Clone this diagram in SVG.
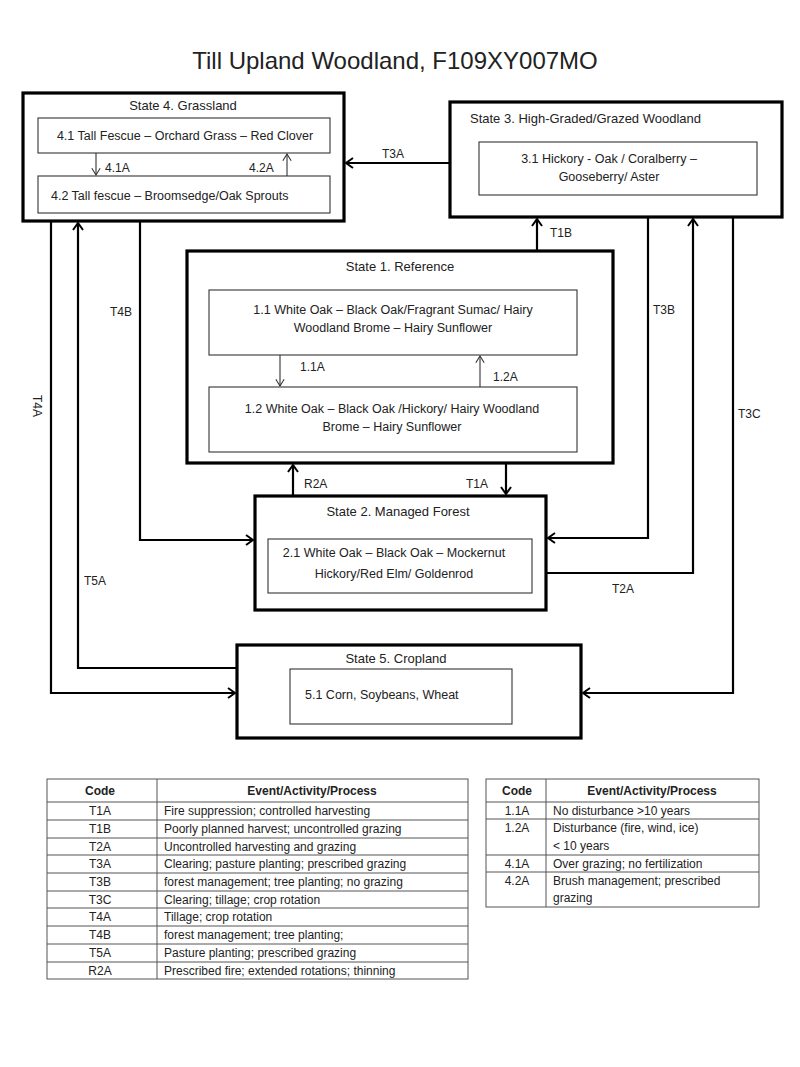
<svg xmlns="http://www.w3.org/2000/svg" width="800" height="1067" viewBox="0 0 800 1067">
<defs>
<style>
text{font-family:"Liberation Sans",Arial,sans-serif;fill:#222;}
.title{font-size:24px;}
.st{font-size:13px;}
.tx{font-size:12.5px;}
.lb{font-size:12px;}
.tb{font-size:12px;}
.th{font-size:12px;font-weight:bold;}
.outer{fill:#fff;stroke:#000;stroke-width:3.2;}
.inner{fill:#fff;stroke:#333;stroke-width:1.1;}
.con{fill:none;stroke:#000;stroke-width:2.2;}
.thin{fill:none;stroke:#333;stroke-width:1.1;}
.grid{fill:none;stroke:#555;stroke-width:1;}
</style>
<marker id="ah" viewBox="0 0 12 12" refX="11" refY="6" markerWidth="12" markerHeight="12" markerUnits="userSpaceOnUse" orient="auto">
<path d="M4,1 L11,6 L4,11" fill="none" stroke="#000" stroke-width="2"/>
</marker>
<marker id="ahs" viewBox="0 0 12 12" refX="11" refY="6" markerWidth="10" markerHeight="10" markerUnits="userSpaceOnUse" orient="auto">
<path d="M3,1 L11,6 L3,11" fill="none" stroke="#333" stroke-width="1.3"/>
</marker>
</defs>
<rect width="800" height="1067" fill="#fff"/>
<text class="title" x="395" y="69" text-anchor="middle">Till Upland Woodland, F109XY007MO</text>

<g id="state4">
<rect class="outer" x="23" y="93" width="321" height="128"/>
<text class="st" x="183" y="110" text-anchor="middle">State 4. Grassland</text>
<rect class="inner" x="38" y="118" width="292" height="35"/>
<text class="tx" x="185" y="140" text-anchor="middle">4.1 Tall Fescue – Orchard Grass – Red Clover</text>
<rect class="inner" x="38" y="176" width="292" height="37"/>
<text class="tx" x="51" y="200">4.2 Tall fescue – Broomsedge/Oak Sprouts</text>
</g>

<g id="state3">
<rect class="outer" x="450" y="102" width="332" height="115"/>
<text class="st" x="470" y="123">State 3. High-Graded/Grazed Woodland</text>
<rect class="inner" x="479" y="142" width="278" height="53"/>
<text class="tx" x="609" y="163" text-anchor="middle">3.1 Hickory - Oak / Coralberry  –</text>
<text class="tx" x="609" y="181" text-anchor="middle">Gooseberry/ Aster</text>
</g>

<g id="state1">
<rect class="outer" x="187" y="251" width="426" height="212"/>
<text class="st" x="400" y="271" text-anchor="middle">State 1. Reference</text>
<rect class="inner" x="209" y="290" width="368" height="65"/>
<text class="tx" x="393" y="314" text-anchor="middle">1.1 White Oak – Black Oak/Fragrant Sumac/ Hairy</text>
<text class="tx" x="393" y="332" text-anchor="middle">Woodland Brome – Hairy Sunflower</text>
<rect class="inner" x="209" y="387" width="368" height="65"/>
<text class="tx" x="392" y="413" text-anchor="middle">1.2 White Oak – Black Oak /Hickory/ Hairy Woodland</text>
<text class="tx" x="392" y="431" text-anchor="middle">Brome – Hairy Sunflower</text>
</g>

<g id="state2">
<rect class="outer" x="255" y="496" width="291" height="114"/>
<text class="st" x="398" y="516" text-anchor="middle">State 2. Managed Forest</text>
<rect class="inner" x="268" y="539" width="264" height="54"/>
<text class="tx" x="394" y="557" text-anchor="middle">2.1 White Oak – Black Oak – Mockernut</text>
<text class="tx" x="394" y="578" text-anchor="middle">Hickory/Red Elm/ Goldenrod</text>
</g>

<g id="state5">
<rect class="outer" x="237" y="645" width="344" height="93"/>
<text class="st" x="396" y="663" text-anchor="middle">State 5. Cropland</text>
<rect class="inner" x="290" y="669" width="222" height="55"/>
<text class="tx" x="305" y="699">5.1 Corn, Soybeans, Wheat</text>
</g>

<g id="connectors">
<path class="con" d="M450,163 H346" marker-end="url(#ah)"/>
<path class="con" d="M537,251 V219" marker-end="url(#ah)"/>
<path class="con" d="M51,221 V693 H235" marker-end="url(#ah)"/>
<path class="con" d="M237,668 H78 V223" marker-end="url(#ah)"/>
<path class="con" d="M140,221 V540 H253" marker-end="url(#ah)"/>
<path class="con" d="M648,217 V538 H548" marker-end="url(#ah)"/>
<path class="con" d="M546,573 H693 V219" marker-end="url(#ah)"/>
<path class="con" d="M733,217 V693 H583" marker-end="url(#ah)"/>
<path class="con" d="M293,496 V465" marker-end="url(#ah)"/>
<path class="con" d="M506,463 V494" marker-end="url(#ah)"/>
<path class="thin" d="M96,153 V175" marker-end="url(#ahs)"/>
<path class="thin" d="M287,176 V154" marker-end="url(#ahs)"/>
<path class="thin" d="M280,355 V386" marker-end="url(#ahs)"/>
<path class="thin" d="M480,387 V356" marker-end="url(#ahs)"/>
<text class="lb" x="382" y="158">T3A</text>
<text class="lb" x="550" y="237">T1B</text>
<text class="lb" x="0" y="0" transform="translate(33,406) rotate(90)" text-anchor="middle">T4A</text>
<text class="lb" x="84" y="585">T5A</text>
<text class="lb" x="110" y="316">T4B</text>
<text class="lb" x="653" y="314">T3B</text>
<text class="lb" x="612" y="593">T2A</text>
<text class="lb" x="738" y="418">T3C</text>
<text class="lb" x="304" y="488">R2A</text>
<text class="lb" x="466" y="488">T1A</text>
<text class="lb" x="105" y="172">4.1A</text>
<text class="lb" x="249" y="172">4.2A</text>
<text class="lb" x="300" y="371">1.1A</text>
<text class="lb" x="493" y="381">1.2A</text>
</g>

<g id="table1">
<rect class="grid" x="47" y="779" width="421" height="200"/>
<line class="grid" x1="157" y1="779" x2="157" y2="979"/>
<path class="grid" d="M47,802 H468 M47,820 H468 M47,838 H468 M47,855 H468 M47,873 H468 M47,891 H468 M47,908 H468 M47,926 H468 M47,944 H468 M47,962 H468"/>
<text class="th" x="100" y="795" text-anchor="middle">Code</text>
<text class="th" x="312" y="795" text-anchor="middle">Event/Activity/Process</text>
<g class="tb" text-anchor="middle">
<text x="100" y="815">T1A</text>
<text x="100" y="833">T1B</text>
<text x="100" y="851">T2A</text>
<text x="100" y="868">T3A</text>
<text x="100" y="886">T3B</text>
<text x="100" y="904">T3C</text>
<text x="100" y="921">T4A</text>
<text x="100" y="939">T4B</text>
<text x="100" y="957">T5A</text>
<text x="100" y="975">R2A</text>
</g>
<g class="tb">
<text x="164" y="815">Fire suppression; controlled harvesting</text>
<text x="164" y="833">Poorly planned harvest; uncontrolled grazing</text>
<text x="164" y="851">Uncontrolled harvesting and  grazing</text>
<text x="164" y="868">Clearing; pasture planting; prescribed grazing</text>
<text x="164" y="886">forest management;  tree  planting; no grazing</text>
<text x="164" y="904">Clearing; tillage; crop rotation</text>
<text x="164" y="921">Tillage; crop rotation</text>
<text x="164" y="939">forest management;  tree  planting;</text>
<text x="164" y="957">Pasture planting; prescribed grazing</text>
<text x="164" y="975">Prescribed fire; extended  rotations; thinning</text>
</g>
</g>

<g id="table2">
<rect class="grid" x="486" y="779" width="273" height="128"/>
<line class="grid" x1="546" y1="779" x2="546" y2="907"/>
<path class="grid" d="M486,802 H759 M486,819 H759 M486,855 H759 M486,872 H759"/>
<text class="th" x="517" y="795" text-anchor="middle">Code</text>
<text class="th" x="652" y="795" text-anchor="middle">Event/Activity/Process</text>
<g class="tb" text-anchor="middle">
<text x="517" y="815">1.1A</text>
<text x="517" y="832">1.2A</text>
<text x="517" y="868">4.1A</text>
<text x="517" y="885">4.2A</text>
</g>
<g class="tb">
<text x="553" y="815">No disturbance &gt;10 years</text>
<text x="553" y="832">Disturbance (fire, wind, ice)</text>
<text x="553" y="850">&lt; 10 years</text>
<text x="553" y="868">Over grazing; no fertilization</text>
<text x="553" y="885">Brush management;  prescribed</text>
<text x="553" y="902">grazing</text>
</g>
</g>
</svg>
